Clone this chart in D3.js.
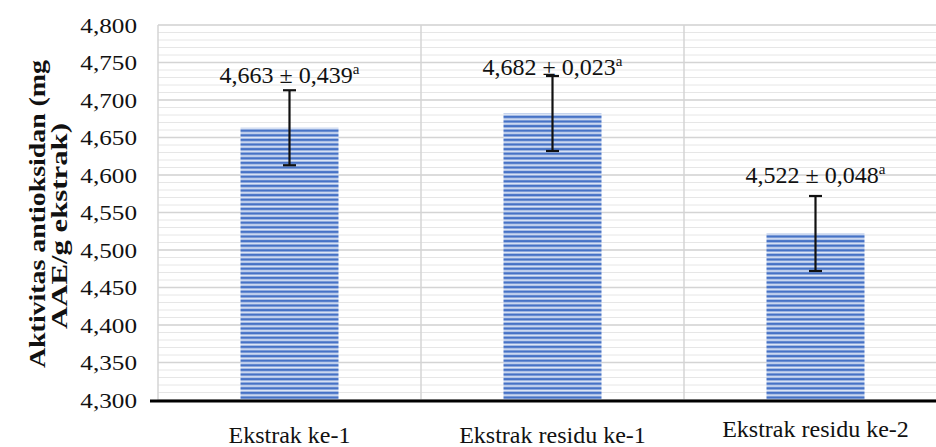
<!DOCTYPE html>
<html><head><meta charset="utf-8">
<script src="https://cdn.jsdelivr.net/npm/d3@7"></script>
<style>body{margin:0;background:#fff}svg{display:block}</style>
</head><body><svg id="c" width="936" height="447"></svg>
<script>
const categories = ["Ekstrak ke-1", "Ekstrak residu ke-1", "Ekstrak residu ke-2"];
const values = [4.663, 4.682, 4.522];
const errors = [0.05, 0.05, 0.05];
const labelMain = ["4,663 ± 0,439", "4,682 ± 0,023", "4,522 ± 0,048"];
const labelSup = ["a", "a", "a"];
const yTicks = [4.3, 4.35, 4.4, 4.45, 4.5, 4.55, 4.6, 4.65, 4.7, 4.75, 4.8];

const svg = d3.select("#c");
const L = 158, R = 947, T = 25, B = 400;
const font = "'Liberation Serif','Times New Roman',serif";

const x = d3.scaleBand().domain(categories).range([L, R]).paddingInner(0).paddingOuter(0);
const y = d3.scaleLinear().domain([4.3, 4.8]).range([B, T]);

const defs = svg.append("defs");
const pat = defs.append("pattern").attr("id", "stripe").attr("patternUnits", "userSpaceOnUse")
  .attr("width", 8).attr("height", 4.6);
pat.append("rect").attr("width", 8).attr("height", 4.6).attr("fill", "#dfe7f6");
pat.append("rect").attr("y", 0.6).attr("width", 8).attr("height", 2.6).attr("fill", "#4672c6");

// minor grid
const minor = d3.range(4.3, 4.8001, 0.01).map(v => +v.toFixed(3));
svg.append("g").selectAll("line").data(minor).join("line")
  .attr("x1", L).attr("x2", R).attr("y1", d => y(d)).attr("y2", d => y(d))
  .attr("stroke", "#e6e6e6").attr("stroke-width", 1);
// major grid
svg.append("g").selectAll("line").data(yTicks).join("line")
  .attr("x1", L).attr("x2", R).attr("y1", d => y(d)).attr("y2", d => y(d))
  .attr("stroke", "#d4d4d4").attr("stroke-width", 1.5);
// vertical grid
svg.append("g").selectAll("line").data(categories).join("line")
  .attr("x1", d => x(d)).attr("x2", d => x(d)).attr("y1", T).attr("y2", B)
  .attr("stroke", "#d4d4d4").attr("stroke-width", 1.5);

// bars
const bw = 98;
svg.append("g").selectAll("rect").data(categories).join("rect")
  .attr("x", d => x(d) + x.bandwidth() / 2 - bw / 2)
  .attr("width", bw)
  .attr("y", (d, i) => y(values[i]))
  .attr("height", (d, i) => B - y(values[i]))
  .attr("fill", "url(#stripe)");

// error bars
const eg = svg.append("g").attr("stroke", "#111").attr("stroke-width", 2.2);
categories.forEach((c, i) => {
  const cx = x(c) + x.bandwidth() / 2;
  const y1 = y(values[i] + errors[i]), y2 = y(values[i] - errors[i]);
  eg.append("line").attr("x1", cx).attr("x2", cx).attr("y1", y1).attr("y2", y2);
  eg.append("line").attr("x1", cx - 6.5).attr("x2", cx + 6.5).attr("y1", y1).attr("y2", y1);
  eg.append("line").attr("x1", cx - 6.5).attr("x2", cx + 6.5).attr("y1", y2).attr("y2", y2);
});

// x axis line
svg.append("line").attr("x1", 150).attr("x2", 936).attr("y1", B + 1).attr("y2", B + 1)
  .attr("stroke", "#000").attr("stroke-width", 3);

// y tick labels
const yAxis = d3.axisLeft(y).tickValues(yTicks).tickSize(0).tickPadding(0)
  .tickFormat(d => d3.format(".3f")(d).replace(".", ","));
const ya = svg.append("g").attr("transform", `translate(137,0)`).call(yAxis);
ya.select(".domain").remove();
ya.selectAll("text").attr("font-family", font).attr("font-size", 21).attr("fill", "#111")
  .attr("dy", "0.34em").attr("transform", "scale(1.2,1)");

// x labels
const xBase = [443, 443, 437];
svg.append("g").selectAll("text").data(categories).join("text")
  .attr("x", d => x(d) + x.bandwidth() / 2)
  .attr("y", (d, i) => xBase[i])
  .attr("text-anchor", "middle").attr("font-family", font).attr("font-size", 24).attr("fill", "#111")
  .text(d => d);

// value labels
const lblY = [83, 75, 183];
categories.forEach((c, i) => {
  const cx = x(c) + x.bandwidth() / 2;
  const t = svg.append("text").attr("x", cx).attr("y", lblY[i]).attr("text-anchor", "middle")
    .attr("font-family", font).attr("font-size", 24).attr("fill", "#111");
  t.append("tspan").text(labelMain[i]);
  t.append("tspan").attr("font-size", 15).attr("dy", -9).text(labelSup[i]);
});

// y axis title
const yt = svg.append("text").attr("transform", "translate(0,225) rotate(-90)")
  .attr("text-anchor", "middle").attr("font-family", font).attr("font-size", 23)
  .attr("font-weight", "bold").attr("fill", "#111");
yt.append("tspan").attr("x", 11).attr("y", 45).attr("textLength", 308)
  .attr("lengthAdjust", "spacingAndGlyphs").text("Aktivitas antioksidan (mg");
yt.append("tspan").attr("x", -1).attr("y", 67).attr("textLength", 206)
  .attr("lengthAdjust", "spacingAndGlyphs").text("AAE/g ekstrak)");
</script></body></html>
